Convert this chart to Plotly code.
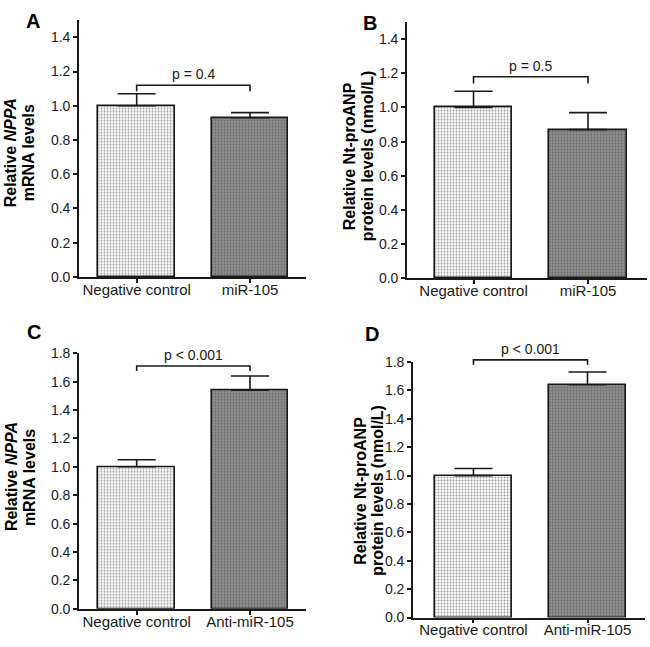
import plotly.graph_objects as go

# ---------------- data ----------------
panel_letters = ["A", "B", "C", "D"]
categories_top = ["Negative control", "miR-105"]
categories_bottom = ["Negative control", "Anti-miR-105"]

a_values = [1.00, 0.93]
a_errors = [0.07, 0.03]
b_values = [1.00, 0.87]
b_errors = [0.095, 0.10]
c_values = [1.00, 1.54]
c_errors = [0.05, 0.10]
d_values = [1.00, 1.64]
d_errors = [0.05, 0.09]

p_labels = ["p = 0.4", "p = 0.5", "p < 0.001", "p < 0.001"]
bracket_levels = [1.12, 1.18, 1.71, 1.815]
bracket_legs = [1.085, 1.14, 1.675, 1.78]

y_title_lines = [
    ["Relative <i>NPPA</i>", "mRNA levels"],
    ["Relative Nt-proANP", "protein levels (nmol/L)"],
    ["Relative <i>NPPA</i>", "mRNA levels"],
    ["Relative Nt-proANP", "protein levels (nmol/L)"],
]
y_ranges = [1.5, 1.5, 1.8, 1.8]
y_ticks_top = [0.0, 0.2, 0.4, 0.6, 0.8, 1.0, 1.2, 1.4]
y_ticks_bottom = [0.0, 0.2, 0.4, 0.6, 0.8, 1.0, 1.2, 1.4, 1.6, 1.8]

# ---------------- layout geometry (pixels) ----------------
W, H = 650, 647
# (x_left, x_right, y_zero_px, y_top_px) for each panel
geom = [
    (79, 306, 275.7, 12.5),
    (407, 647, 277.0, 14.5),
    (79, 306, 616.0, 354.0),
    (413, 645, 625.0, 363.0),
]
x_ranges = [(-0.509, 1.494), (-0.581, 1.515), (-0.509, 1.494), (-0.53, 1.504)]
letter_pos = [(33, 13), (370, 15), (34, 332), (372, 334)]
# (line1 x, line2 x, vertical centre)
ytitle_pos = [(10, 28, 149), (349, 367, 152), (11, 29, 481), (361, 378, 495)]

FONT = "Liberation Sans, Arial, sans-serif"
INK = "#1a1a1a"
fills = ["#f8f8f8", "#8d8d8d"]
pattern_fg = ["#eeeeee", "#838383"]

fig = go.Figure()

panels = [
    (categories_top, a_values, a_errors),
    (categories_top, b_values, b_errors),
    (categories_bottom, c_values, c_errors),
    (categories_bottom, d_values, d_errors),
]

shapes = []
annotations = []
for i, (cats, vals, errs) in enumerate(panels):
    n = i + 1
    xa = "x" if n == 1 else f"x{n}"
    ya = "y" if n == 1 else f"y{n}"
    xpos = list(range(len(cats)))
    fig.add_trace(go.Bar(
        x=xpos, y=vals, xaxis=xa, yaxis=ya, width=0.675,
        marker=dict(color=fills, line=dict(color=INK, width=1.6),
                    pattern=dict(shape=".", fgcolor=pattern_fg, bgcolor=fills,
                                 size=3, solidity=0.3)),
        error_y=dict(type="data", array=errs, arrayminus=[0] * len(errs),
                     symmetric=False, color=INK, thickness=1.6, width=19),
        showlegend=False, hoverinfo="skip",
    ))

    xl, xr, y0, yt = geom[i]
    dom_x = [xl / W, xr / W]
    dom_y = [1 - y0 / H, 1 - yt / H]
    xkey = "xaxis" if n == 1 else f"xaxis{n}"
    ykey = "yaxis" if n == 1 else f"yaxis{n}"
    fig.update_layout(**{
        xkey: dict(domain=dom_x, anchor=ya, range=list(x_ranges[i]),
                   tickvals=xpos, ticktext=cats, showline=True, linecolor=INK,
                   linewidth=1.6, ticks="outside", ticklen=4, tickwidth=1.6,
                   tickcolor=INK, showgrid=False, zeroline=False,
                   ticklabelstandoff=-6,
                   tickfont=dict(family=FONT, size=15, color=INK)),
        ykey: dict(domain=dom_y, anchor=xa, range=[0, y_ranges[i]],
                   tickvals=(y_ticks_top if i < 2 else y_ticks_bottom),
                   tickformat=".1f", showline=True, linecolor=INK,
                   linewidth=1.6, ticks="outside", ticklen=4, tickwidth=1.6,
                   tickcolor=INK, showgrid=False, zeroline=False,
                   tickfont=dict(family=FONT, size=14, color=INK)),
    })

    # significance bracket (domain-referenced so it is not clipped)
    xmin, xmax = x_ranges[i]
    def fx(v):
        return (v - xmin) / (xmax - xmin)
    def fy(v):
        return v / y_ranges[i]
    xd = f"{xa} domain"
    yd = f"{ya} domain"
    top = fy(bracket_levels[i])
    leg = fy(bracket_legs[i])
    path = (f"M {fx(xpos[0])},{leg} L {fx(xpos[0])},{top} "
            f"L {fx(xpos[1])},{top} L {fx(xpos[1])},{leg}")
    shapes.append(dict(type="path", xref=xd, yref=yd, path=path,
                       line=dict(color=INK, width=1.6)))
    annotations.append(dict(x=fx((xpos[0] + xpos[1]) / 2), y=top, xref=xd, yref=yd,
                            text=p_labels[i], showarrow=False, yanchor="bottom",
                            yshift=1, font=dict(family=FONT, size=14, color=INK)))

    # panel letter
    lx, ly = letter_pos[i]
    annotations.append(dict(x=lx / W, y=1 - ly / H, xref="paper", yref="paper",
                            text=f"<b>{panel_letters[i]}</b>", showarrow=False,
                            xanchor="center", yanchor="middle",
                            font=dict(family=FONT, size=20, color="#000")))
    # y title, one annotation per line
    t1x, t2x, ty = ytitle_pos[i]
    for line_text, tx in zip(y_title_lines[i], (t1x, t2x)):
        annotations.append(dict(x=tx / W, y=1 - ty / H, xref="paper", yref="paper",
                                text=f"<b>{line_text}</b>", showarrow=False,
                                textangle=-90, xanchor="center", yanchor="middle",
                                font=dict(family=FONT, size=16, color="#000")))

fig.update_layout(
    width=W, height=H, margin=dict(l=0, r=0, t=0, b=0),
    paper_bgcolor="white", plot_bgcolor="white",
    shapes=shapes, annotations=annotations, bargap=0,
)

fig.write_html("out.html", config={"displayModeBar": False},
               post_script="document.body.style.margin='0';document.body.style.overflow='hidden';")
